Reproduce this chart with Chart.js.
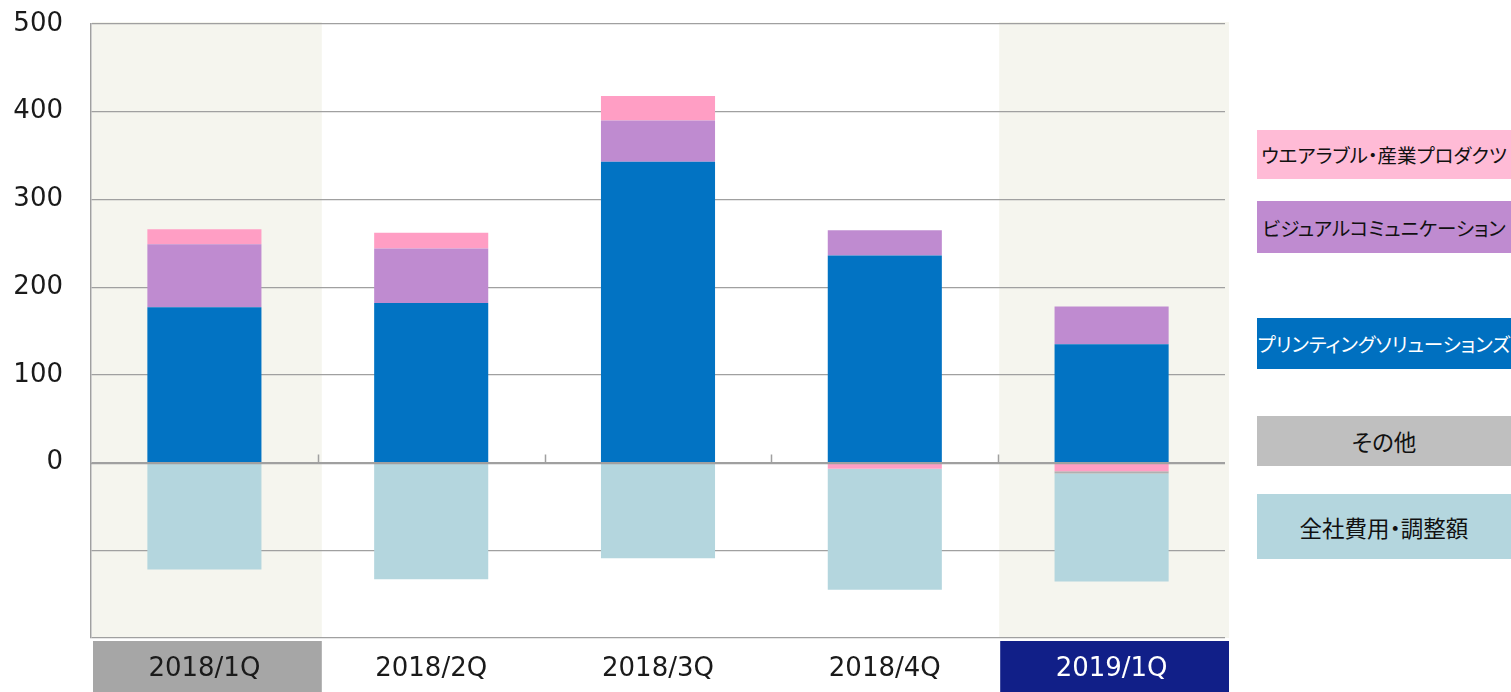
<!DOCTYPE html>
<html><head><meta charset="utf-8">
<script src="https://cdn.jsdelivr.net/npm/chart.js@4.4.0/dist/chart.umd.min.js"></script>
<style>
html,body{margin:0;padding:0;background:#fff;}
#wrap{position:relative;width:1511px;height:692px;overflow:hidden;}
canvas{position:absolute;left:0;top:0;}
.lg{position:absolute;left:1257px;width:254px;display:flex;align-items:center;justify-content:center;font-family:"Noto Sans CJK JP";font-size:19.5px;white-space:nowrap;color:#111;font-feature-settings:"palt";}
</style></head><body>
<div id="wrap"><canvas id="c" width="1511" height="692"></canvas></div>
<script>
// ---- data ----
const categories = ['2018/1Q', '2018/2Q', '2018/3Q', '2018/4Q', '2019/1Q'];
const printing  = [177, 182, 343, 236, 135];
const visual    = [72, 62, 47, 29, 43];
const wearable  = [17, 18, 28, -7, -10];
const other     = [null, null, null, null, -2.5];
const corporate = [-122, -133, -109, -138, -123];
const yTickLabels = [0, 100, 200, 300, 400, 500];
const seriesNames = ['プリンティングソリューションズ', 'ビジュアルコミュニケーション', 'ウエアラブル・産業プロダクツ', 'その他', '全社費用・調整額'];

// ---- styles ----
const barColors = ['#0273c3', '#bf8bd0', '#ff9ec4', '#b0b0b0', '#b4d6de'];
const legendColors = ['#0070c0', '#bf8bd0', '#ffbbd6', '#bfbfbf', '#b4d6de'];
const legendText = ['#ffffff', '#111', '#111', '#111', '#111'];
const legendFont = [19.5, 19.5, 19.5, 22.5, 22.5];
const legendBoxes = [[318, 51], [201, 52], [130, 49], [416, 50], [494, 65]]; // top, height
const highlight = {0: {band: '#f5f5ee', box: '#a6a6a6', text: '#1a1a1a'}, 4: {band: '#f5f5ee', box: '#111f88', text: '#ffffff'}};

const seriesValues = [printing, visual, wearable, other, corporate];

const decor = {
  id: 'decor',
  beforeDraw(chart) {
    const {ctx, chartArea, scales: {x}} = chart;
    const half = (x.getPixelForValue(1) - x.getPixelForValue(0)) / 2;
    ctx.save();
    Object.keys(highlight).forEach(k => {
      const i = +k, c = x.getPixelForValue(i);
      const l = c - half + 1, r = c + half + 4;
      ctx.fillStyle = highlight[i].band;
      ctx.fillRect(l, chartArea.top - 2, r - l, chartArea.bottom - chartArea.top + 2);
      ctx.fillStyle = highlight[i].box;
      ctx.fillRect(l + 1, chartArea.bottom + 3, r - l - 1, chart.height - chartArea.bottom - 3);
    });
    ctx.restore();
  },
  afterDatasetsDraw(chart) {
    const {ctx, chartArea, scales: {x, y}} = chart;
    const y0 = Math.round(y.getPixelForValue(0)) + 0.5;
    ctx.save();
    ctx.strokeStyle = '#a0a0a0';
    ctx.lineWidth = 1.5;
    ctx.beginPath();
    ctx.moveTo(chartArea.left, y0); ctx.lineTo(chartArea.right, y0);
    const half = (x.getPixelForValue(1) - x.getPixelForValue(0)) / 2;
    for (let i = 0; i < categories.length - 1; i++) {
      const bx = Math.round(x.getPixelForValue(i) + half) + 0.5;
      ctx.moveTo(bx, y0); ctx.lineTo(bx, y0 - 9);
    }
    ctx.stroke();
    ctx.restore();
  }
};

new Chart(document.getElementById('c'), {
  type: 'bar',
  data: {
    labels: categories,
    datasets: seriesValues.map((vals, i) => ({
      label: seriesNames[i],
      data: vals,
      backgroundColor: barColors[i],
      borderWidth: 0,
      barPercentage: 0.503,
      categoryPercentage: 1
    }))
  },
  options: {
    responsive: false,
    animation: false,
    devicePixelRatio: 1,
    layout: {padding: {left: 10, right: 286, top: 24, bottom: 11}},
    plugins: {legend: {display: false}, tooltip: {enabled: false}},
    scales: {
      x: {
        stacked: true,
        grid: {display: false, drawTicks: false, tickLength: 0},
        border: {display: false},
        ticks: {
          font: {family: 'DejaVu Sans', size: 26},
          color: c => (highlight[c.index] ? highlight[c.index].text : '#1a1a1a'),
          padding: 16, maxRotation: 0, autoSkip: false
        },
        afterFit: s => { s.height = 43; }
      },
      y: {
        stacked: true,
        min: -200, max: 500,
        ticks: {
          stepSize: 100,
          callback: v => (yTickLabels.includes(v) ? String(v) : ''),
          font: {family: 'DejaVu Sans', size: 26},
          color: '#1a1a1a',
          padding: 0
        },
        grid: {color: '#a0a0a0', lineWidth: 1.2, drawTicks: true, tickLength: 28, tickColor: 'rgba(0,0,0,0)'},
        border: {display: true, color: '#a0a0a0', width: 1.5},
        afterFit: s => { s.width = 81; }
      }
    }
  },
  plugins: [decor]
});

// legend (HTML text)
const wrap = document.getElementById('wrap');
seriesNames.forEach((name, i) => {
  const d = document.createElement('div');
  d.className = 'lg';
  d.textContent = name;
  d.style.top = legendBoxes[i][0] + 'px';
  d.style.height = legendBoxes[i][1] + 'px';
  d.style.background = legendColors[i];
  d.style.color = legendText[i];
  d.style.fontSize = legendFont[i] + 'px';
  wrap.appendChild(d);
});
</script>
</body></html>
